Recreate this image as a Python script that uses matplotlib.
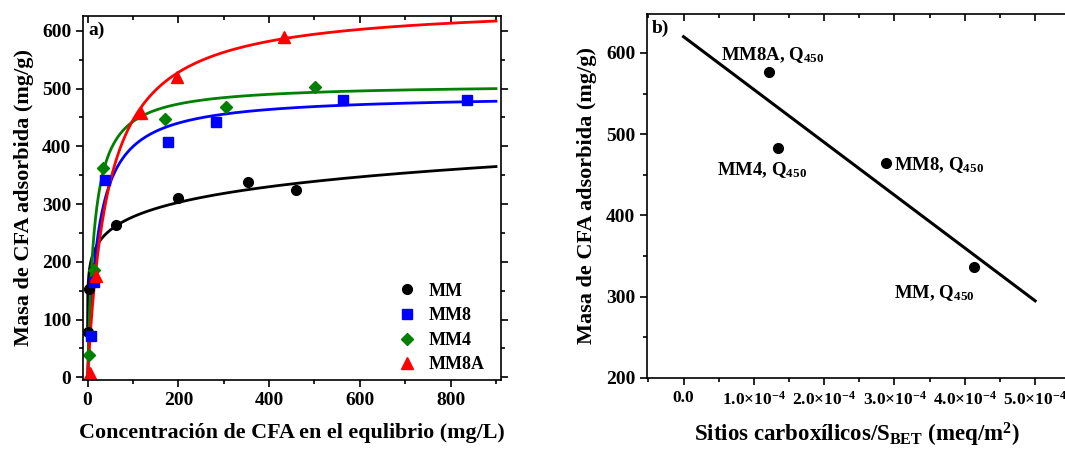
import numpy as np
import matplotlib
matplotlib.use("Agg")
import matplotlib.pyplot as plt
from matplotlib.ticker import MultipleLocator

plt.rcParams['font.family'] = ['Liberation Serif', 'DejaVu Serif']
plt.rcParams['font.weight'] = 'bold'
plt.rcParams['mathtext.fontset'] = 'custom'
plt.rcParams['mathtext.rm'] = 'Liberation Serif:bold'
plt.rcParams['mathtext.it'] = 'Liberation Serif:bold'
plt.rcParams['mathtext.bf'] = 'Liberation Serif:bold'

# ---- Panel a data ----
mm_x = [0, 2, 63, 200, 353, 460]
mm_y = [78, 153, 263, 310, 338, 325]
mm8_x = [8, 14, 38, 177, 284, 562, 835]
mm8_y = [72, 165, 342, 408, 442, 481, 480]
mm4_x = [2, 15, 35, 170, 305, 502]
mm4_y = [38, 185, 362, 448, 468, 502]
mm8a_x = [5, 18, 118, 198, 432]
mm8a_y = [8, 175, 458, 520, 590]

# Fit parameters (Freundlich for MM, Langmuir for others)
mm_kf, mm_n_inv = 157.0, 0.124
mm8_qmax, mm8_k = 490.0, 0.0442
mm4_qmax, mm4_k = 508.0, 0.068
mm8a_qmax, mm8a_k = 648.0, 0.022

# ---- Panel b data ----
sites = [1.22e-4, 1.35e-4, 2.88e-4, 4.13e-4]
q450 = [576, 483, 465, 337]
names = ['MM8A', 'MM4', 'MM8', 'MM']
line_intercept, line_slope = 620.0, -6.5e5
line_xrange = [0.0, 5.0e-4]
b_xticks = [0.0, 1e-4, 2e-4, 3e-4, 4e-4, 5e-4]
b_xticklabels = ['0.0', '1.0×10$^{-4}$', '2.0×10$^{-4}$', '3.0×10$^{-4}$',
                 '4.0×10$^{-4}$', '5.0×10$^{-4}$']

fig = plt.figure(figsize=(10.65, 4.5), dpi=100)

# ---------------- Panel a ----------------
ax = fig.add_axes([0.078, 0.155, 0.392, 0.81])
C = np.linspace(0.01, 900, 2000)
ax.plot(C, mm_kf * C ** mm_n_inv, color='black', lw=2)
ax.plot(C, mm8_qmax * mm8_k * C / (1 + mm8_k * C), color='blue', lw=2)
ax.plot(C, mm4_qmax * mm4_k * C / (1 + mm4_k * C), color='green', lw=2)
ax.plot(C, mm8a_qmax * mm8a_k * C / (1 + mm8a_k * C), color='red', lw=2)

ax.plot(mm_x, mm_y, 'o', color='black', ms=7, ls='none', label='MM')
ax.plot(mm8_x, mm8_y, 's', color='blue', ms=6.5, ls='none', label='MM8')
ax.plot(mm4_x, mm4_y, 'D', color='green', ms=6.5, ls='none', label='MM4')
ax.plot(mm8a_x, mm8a_y, '^', color='red', ms=8, ls='none', label='MM8A')

ax.set_xlim(-10, 910)
ax.set_ylim(-5, 626)
ax.xaxis.set_major_locator(MultipleLocator(200))
ax.xaxis.set_minor_locator(MultipleLocator(100))
ax.yaxis.set_major_locator(MultipleLocator(100))
ax.yaxis.set_minor_locator(MultipleLocator(50))
ax.tick_params(which='both', width=1.2)
ax.tick_params(which='major', length=5, labelsize=14)
ax.tick_params(which='minor', length=3)
ax.tick_params(axis='x', which='both', bottom=True, top=True)
ax.tick_params(axis='y', which='both', left=True, right=True)
ax.tick_params(axis='x', which='both', direction='out')
ax.tick_params(axis='y', which='both', direction='out')
for t in ax.xaxis.get_major_ticks() + ax.xaxis.get_minor_ticks():
    t.tick2line.set_marker(3)  # top ticks pointing inward (down)
for t in ax.yaxis.get_major_ticks() + ax.yaxis.get_minor_ticks():
    t.tick2line.set_marker(1)  # right ticks pointing inward (left)
for lab in ax.get_xticklabels() + ax.get_yticklabels():
    lab.set_fontweight('bold')
for s in ax.spines.values():
    s.set_linewidth(1.2)
ax.set_xlabel('Concentración de CFA en el equlibrio (mg/L)', fontsize=15.8,
              fontweight='bold', labelpad=10)
ax.set_ylabel('Masa de CFA adsorbida (mg/g)', fontsize=16, fontweight='bold',
              labelpad=6)
ax.text(0.012, 0.985, 'a)', transform=ax.transAxes, ha='left', va='top',
        fontsize=14, fontweight='bold')
ax.legend(loc='lower right', frameon=False, prop={'size': 13, 'weight': 'bold'},
          handletextpad=0.6, labelspacing=0.42, borderaxespad=0.3,
          handlelength=1.2, bbox_to_anchor=(0.993, -0.016))

# ---------------- Panel b ----------------
bx = fig.add_axes([0.6075, 0.16, 0.3935, 0.809])
xs = np.array(line_xrange)
bx.plot(xs, line_intercept + line_slope * xs, color='black', lw=2.2)
bx.plot(sites, q450, 'o', color='black', ms=7)
offsets = {'MM8A': (-0.69e-4, 22), 'MM4': (-0.88e-4, -27),
           'MM8': (0.12e-4, -3), 'MM': (-1.14e-4, -33)}
for n, x, y in zip(names, sites, q450):
    dx, dy = offsets[n]
    bx.text(x + dx, y + dy, n + ', Q$_{450}$', fontsize=13.5,
            fontweight='bold', ha='left', va='center')
bx.set_xlim(-0.52e-4, 5.44e-4)
bx.set_ylim(200, 648)
bx.set_xticks(b_xticks)
bx.set_xticklabels(b_xticklabels)
bx.xaxis.set_minor_locator(MultipleLocator(0.5e-4))
bx.yaxis.set_major_locator(MultipleLocator(100))
bx.yaxis.set_minor_locator(MultipleLocator(50))
bx.tick_params(which='both', direction='out', width=1.2)
bx.tick_params(which='major', length=5)
bx.tick_params(which='minor', length=3)
bx.tick_params(axis='x', which='both', top=True, labelsize=12.5, pad=4)
bx.tick_params(axis='y', which='major', right=True, labelsize=14)
for t in bx.xaxis.get_major_ticks() + bx.xaxis.get_minor_ticks():
    t.tick2line.set_marker(3)
for t in bx.yaxis.get_major_ticks():
    t.tick2line.set_marker(1)
for lab in bx.get_xticklabels() + bx.get_yticklabels():
    lab.set_fontweight('bold')
for s in bx.spines.values():
    s.set_linewidth(1.2)
bx.set_xlabel('Sitios carboxílicos/S$_{\\mathrm{BET}}$ (meq/m$^{\\mathrm{2}}$)',
              fontsize=16.5, fontweight='bold', labelpad=9)
bx.set_ylabel('Masa de CFA adsorbida (mg/g)', fontsize=16, fontweight='bold',
              labelpad=6)
bx.text(0.012, 0.985, 'b)', transform=bx.transAxes, ha='left', va='top',
        fontsize=14, fontweight='bold')

fig.savefig('out.png', dpi=100)
